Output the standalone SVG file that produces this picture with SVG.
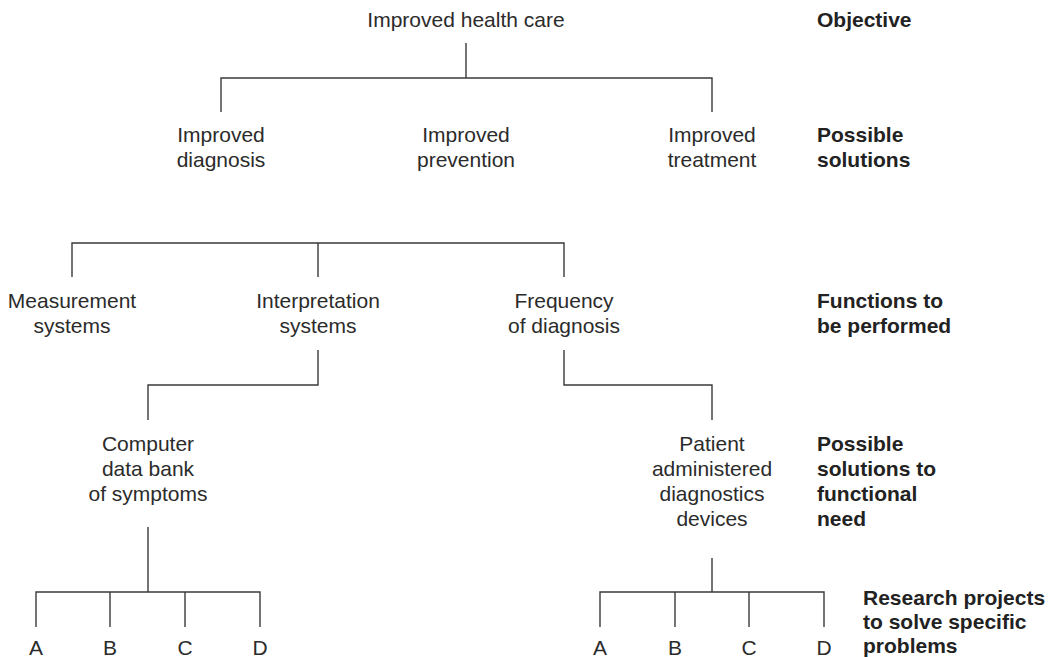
<svg xmlns="http://www.w3.org/2000/svg" width="1057" height="657" viewBox="0 0 1057 657">
<style>
text{font-family:"Liberation Sans",Arial,sans-serif;font-size:21px;fill:#2b2b2b}
.n{text-anchor:middle}
.b{font-weight:bold;fill:#222}
.c{fill:none;stroke:#3a3a3a;stroke-width:1.4}
</style>
<rect width="1057" height="657" fill="#fff"/>
<g id="connectors">
<path class="c" d="M466 43V78M221 112V78H712V112"/>
<path class="c" d="M72 277V243H564V277M318 243V277"/>
<path class="c" d="M318 350V385H148V420"/>
<path class="c" d="M564 350V385H712V420"/>
<path class="c" d="M148 527V592M36 627V592H260V627M110 592V627M185 592V627"/>
<path class="c" d="M712 558V592M600 627V592H824V627M675 592V627M749 592V627"/>
</g>
<g id="n-root"><text class="n" x="466" y="27">Improved health care</text></g>
<g id="n-diag"><text class="n" x="221" y="142">Improved</text><text class="n" x="221" y="167">diagnosis</text></g>
<g id="n-prev"><text class="n" x="466" y="142">Improved</text><text class="n" x="466" y="167">prevention</text></g>
<g id="n-treat"><text class="n" x="712" y="142">Improved</text><text class="n" x="712" y="167">treatment</text></g>
<g id="n-meas"><text class="n" x="72" y="308">Measurement</text><text class="n" x="72" y="333">systems</text></g>
<g id="n-interp"><text class="n" x="318" y="308">Interpretation</text><text class="n" x="318" y="333">systems</text></g>
<g id="n-freq"><text class="n" x="564" y="308">Frequency</text><text class="n" x="564" y="333">of diagnosis</text></g>
<g id="n-comp"><text class="n" x="148" y="451">Computer</text><text class="n" x="148" y="476">data bank</text><text class="n" x="148" y="501">of symptoms</text></g>
<g id="n-pat"><text class="n" x="712" y="451">Patient</text><text class="n" x="712" y="476">administered</text><text class="n" x="712" y="501">diagnostics</text><text class="n" x="712" y="526">devices</text></g>
<g id="n-leaves-left"><text class="n" x="36" y="655">A</text><text class="n" x="110" y="655">B</text><text class="n" x="185" y="655">C</text><text class="n" x="260" y="655">D</text></g>
<g id="n-leaves-right"><text class="n" x="600" y="655">A</text><text class="n" x="675" y="655">B</text><text class="n" x="749" y="655">C</text><text class="n" x="824" y="655">D</text></g>
<g id="labels">
<text class="b" x="817" y="27">Objective</text>
<text class="b" x="817" y="142">Possible</text><text class="b" x="817" y="167">solutions</text>
<text class="b" x="817" y="308">Functions to</text><text class="b" x="817" y="333">be performed</text>
<text class="b" x="817" y="451">Possible</text><text class="b" x="817" y="476">solutions to</text><text class="b" x="817" y="501">functional</text><text class="b" x="817" y="526">need</text>
<text class="b" x="863" y="605">Research projects</text><text class="b" x="863" y="629">to solve specific</text><text class="b" x="863" y="653">problems</text>
</g>
</svg>
